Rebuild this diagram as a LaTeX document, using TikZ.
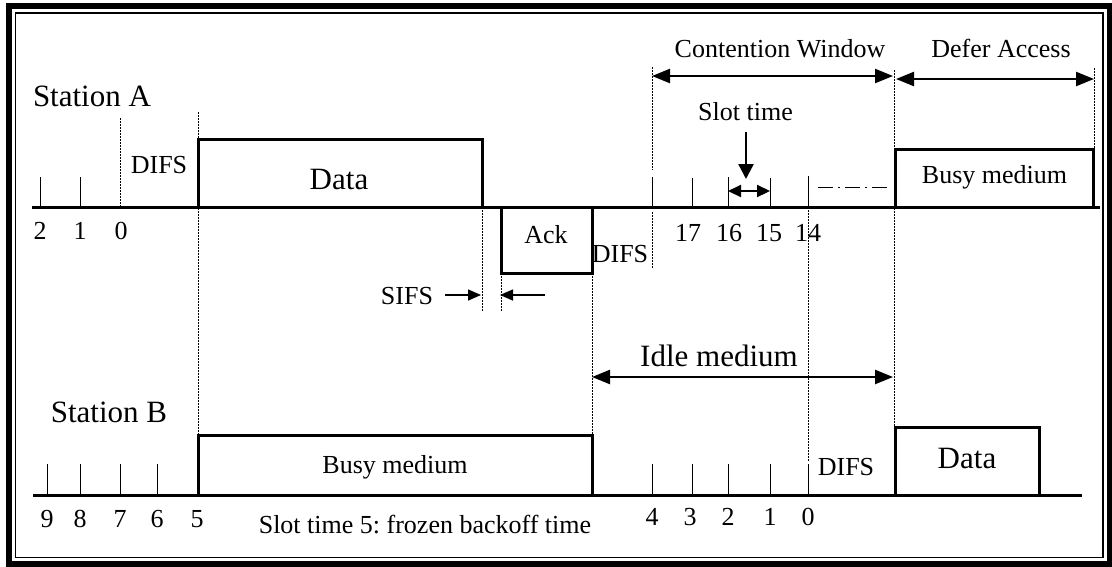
\documentclass[tikz,border=0pt]{standalone}
\usepackage{fontspec}
\setmainfont{Liberation Serif}
\usetikzlibrary{arrows.meta}
\begin{document}
\frenchspacing
\begin{tikzpicture}[x=1pt,y=-1pt,
  axis/.style={line width=3pt},
  boxline/.style={line width=3pt, line join=miter},
  tickline/.style={line width=1pt},
  guide/.style={line width=0.8pt, dash pattern=on 1.5pt off 1.5pt},
  bigarrow/.style={line width=2.4pt, {Triangle[length=18pt,width=14pt]}-{Triangle[length=18pt,width=14pt]}},
  downarrow/.style={line width=2.4pt, -{Triangle[length=15pt,width=15pt]}},
  slotarrow/.style={line width=2.2pt, {Triangle[length=13pt,width=12pt]}-{Triangle[length=13pt,width=12pt]}},
  sifsarrow/.style={line width=1.6pt, -{Triangle[length=13pt,width=11pt]}},
  dashdot/.style={line width=1pt, dash pattern=on 15pt off 5pt on 2pt off 5pt},
  sm/.style={font=\fontsize{26}{28}\selectfont, inner sep=0pt, anchor=base},
  lg/.style={font=\fontsize{31}{33}\selectfont, inner sep=0pt, anchor=base},
]
\useasboundingbox (0,0) rectangle (1112,566);
% frame
\draw[line width=6pt] (9,6) rectangle (1109.5,563.5);
\draw[line width=1.5pt] (15.5,13) rectangle (1103,557.5);

% ---------------- Station A ----------------
\coordinate (aL) at (32,207);
\coordinate (aR) at (1100,207);
\draw[axis] (aL) -- (aR);
% ticks
\foreach \x/\t in {40/177,80/177,652/177,692/178,728/177,770/178,808/176}
  \draw[tickline] (\x,207) -- (\x,\t);
% boxes
\draw[boxline] (198,207) -- (198,139) -- (482,139) -- (482,207);
\draw[boxline] (501,207) -- (501,273) -- (592,273) -- (592,207);
\draw[boxline] (895,207) -- (895,149) -- (1093,149) -- (1093,207);
% guides
\draw[guide] (120,118) -- (120,207);
\draw[guide] (198,112) -- (198,435);
\draw[guide] (482,207) -- (482,312);
\draw[guide] (501,273) -- (501,312);
\draw[guide] (592,273) -- (592,435);
\draw[guide] (652,67) -- (652,170);
\draw[guide] (652,212) -- (652,268);
\draw[guide] (808,207) -- (808,462);
\draw[guide] (894,70) -- (894,427);
\draw[guide] (1094,68) -- (1094,149);
% dash-dot
\draw[dashdot] (818,187) -- (890,187);

% arrows top
\coordinate (cwL) at (652,76);
\coordinate (cwR) at (893,76);
\draw[bigarrow] (cwL) -- (cwR);
\coordinate (daL) at (896,79);
\coordinate (daR) at (1094,79);
\draw[bigarrow] (daL) -- (daR);
\coordinate (stTop) at (746,132);
\coordinate (stBot) at (746,179);
\draw[downarrow] (stTop) -- (stBot);
\coordinate (slL) at (728,191);
\coordinate (slR) at (770,191);
\draw[slotarrow] (slL) -- (slR);

% SIFS arrows
\coordinate (s1a) at (445,295);
\coordinate (s1b) at (481,295);
\coordinate (s2a) at (545,295);
\coordinate (s2b) at (500,295);
\draw[sifsarrow] (s1a) -- (s1b);
\draw[sifsarrow] (s2a) -- (s2b);

% Idle medium arrow
\coordinate (imL) at (592,377);
\coordinate (imR) at (893,377);
\draw[bigarrow] (imL) -- (imR);

% texts A
\node[lg] (stA) at (92,106) {Station A};
\node[sm] (difsA) at (159,173) {DIFS};
\node[lg] (dataA) at (339,189) {Data};
\node[sm] (nA2) at (40,239) {2};
\node[sm] (nA1) at (80,239) {1};
\node[sm] (nA0) at (121,239) {0};
\node[sm] (ack) at (546,243) {Ack};
\node[sm] (difsM) at (620,262) {DIFS};
\node[sm] (n17) at (688,241) {17};
\node[sm] (n16) at (729,241) {16};
\node[sm] (n15) at (769,241) {15};
\node[sm] (n14) at (808,241) {14};
\node[sm] (cw) at (780,57) {Contention Window};
\node[sm] (da) at (1001,57) {Defer Access};
\node[sm] (slt) at (745.5,120) {Slot time};
\node[sm] (busyA) at (994.5,183) {Busy medium};
\node[sm] (sifs) at (407,304) {SIFS};
\node[lg] (idle) at (719,366) {Idle medium};

% ---------------- Station B ----------------
\coordinate (bL) at (33,495);
\coordinate (bR) at (1082,495);
\draw[axis] (bL) -- (bR);
\foreach \x in {47,80,120,157,652,692,728,770,808}
  \draw[tickline] (\x,495) -- (\x,464);
\draw[boxline] (198,495) -- (198,435) -- (592,435) -- (592,495);
\draw[boxline] (895,495) -- (895,427) -- (1039,427) -- (1039,495);

\node[lg] (stB) at (109,422) {Station B};
\node[sm] (busyB) at (395,473) {Busy medium};
\node[sm] (n9) at (47,527) {9};
\node[sm] (n8) at (80,527) {8};
\node[sm] (n7) at (120,527) {7};
\node[sm] (n6) at (157,527) {6};
\node[sm] (n5) at (197,527) {5};
\node[sm] (frozen) at (425,533) {Slot time 5: frozen backoff time};
\node[sm] (m4) at (652,525) {4};
\node[sm] (m3) at (690,525) {3};
\node[sm] (m2) at (728,525) {2};
\node[sm] (m1) at (770,525) {1};
\node[sm] (m0) at (808,525) {0};
\node[sm] (difsB) at (846,475) {DIFS};
\node[lg] (dataB) at (967,468) {Data};
\end{tikzpicture}
\end{document}
